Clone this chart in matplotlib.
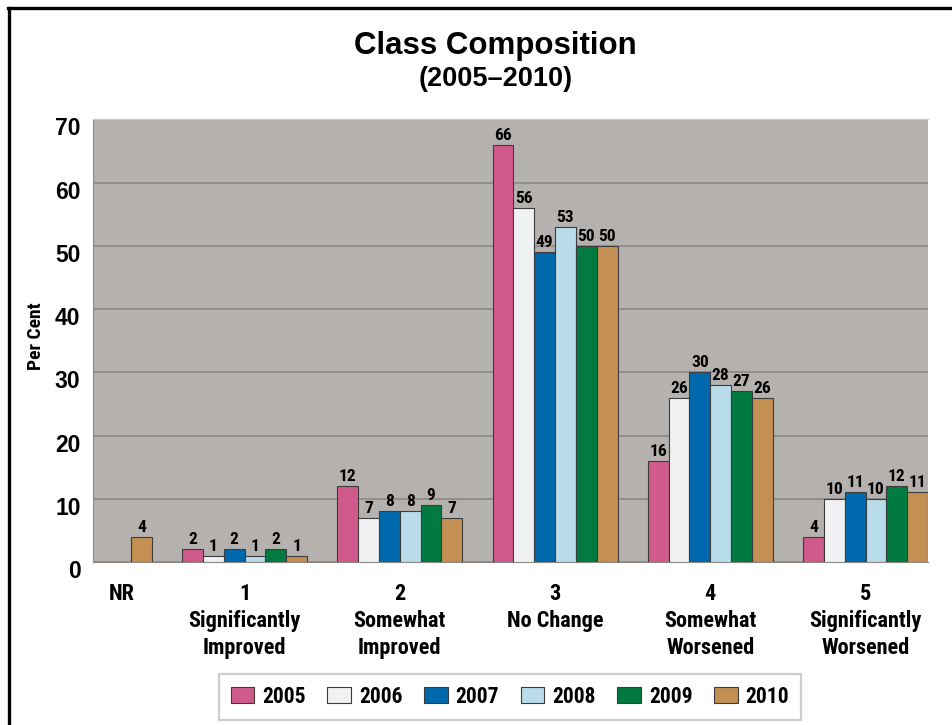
import numpy as np
import matplotlib
matplotlib.use('Agg')
import matplotlib.pyplot as plt
from matplotlib import font_manager
from matplotlib.lines import Line2D
from matplotlib.patches import Patch
from matplotlib.transforms import ScaledTranslation

# data
categories = ['NR', '1\nSignificantly\nImproved', '2\nSomewhat\nImproved',
              '3\nNo Change', '4\nSomewhat\nWorsened', '5\nSignificantly\nWorsened']
years = ['2005', '2006', '2007', '2008', '2009', '2010']
v2005 = [np.nan, 2, 12, 66, 16, 4]
v2006 = [np.nan, 1, 7, 56, 26, 10]
v2007 = [np.nan, 2, 8, 49, 30, 11]
v2008 = [np.nan, 1, 8, 53, 28, 10]
v2009 = [np.nan, 2, 9, 50, 27, 12]
v2010 = [4, 1, 7, 50, 26, 11]
series = [v2005, v2006, v2007, v2008, v2009, v2010]
colors = ['#d05a8c', '#f0f1f3', '#0069ae', '#b8dcea', '#007a40', '#c38f52']

# look for a condensed face, otherwise ask DejaVu for its condensed cut
names = {f.name for f in font_manager.fontManager.ttflist}
narrow = 'DejaVu Sans'
for cand in ['Liberation Sans Narrow', 'Roboto Condensed', 'Open Sans Condensed', 'DejaVu Sans Condensed']:
    if cand in names:
        narrow = cand
        break
wide = 'Liberation Sans'
nfont = dict(family=narrow, stretch='condensed', weight='bold')

fig = plt.figure(figsize=(9.53, 7.25), dpi=100)
ax = fig.add_axes([0.0976, 0.2248, 0.8762, 0.6104])
ax.set_facecolor('#b5b1ae')

w = 0.1342
x = np.arange(len(categories))
for i, (vals, c) in enumerate(zip(series, colors)):
    pos = x + (i - 2.5) * w
    ax.bar(pos, vals, w, color=c, edgecolor='#3c3c3c', linewidth=0.8, zorder=3)
    for px, v in zip(pos, vals):
        if not np.isnan(v):
            ax.annotate('%d' % v, (px, v), xytext=(0, 1.5), textcoords='offset points',
                        ha='center', va='bottom', fontsize=12.5, zorder=4, **nfont)

ax.set_xlim(0.024, 5 + 3 * w)
ax.set_ylim(0, 70)
ax.set_yticks(range(0, 71, 10))
ax.yaxis.grid(True, color='#8a8784', linewidth=1.2, zorder=1)
ax.tick_params(axis='y', length=0, pad=9, labelsize=16.5)
for lab in ax.get_yticklabels():
    lab.set_family(wide)
    lab.set_fontweight('bold')
    lab.set_transform(lab.get_transform() + ScaledTranslation(0, -7 / 100, fig.dpi_scale_trans))

tick_pos = [0.21, 1, 2, 3, 4, 5]
ax.set_xticks(tick_pos)
ax.set_xticklabels(categories, fontsize=16, linespacing=1.3, **nfont)
ax.tick_params(axis='x', length=0, pad=15)

for s in ['left', 'bottom', 'right']:
    ax.spines[s].set_color('#8a8784')
ax.spines['top'].set_color('#c9c6c3')
ax.spines['right'].set_visible(False)

ax.set_ylabel('Per Cent', fontsize=14, **nfont)
ax.yaxis.set_label_coords(-0.057, 0.51)

fig.text(0.52, 0.937, 'Class Composition', ha='center', va='center',
         family=wide, fontweight='bold', fontsize=22.5)
fig.text(0.52, 0.891, '(2005\u20132010)', ha='center', va='center',
         family=wide, fontweight='bold', fontsize=19.5)

handles = [Patch(facecolor=c, edgecolor='#3c3c3c', linewidth=0.8) for c in colors]
leg = fig.legend(handles, years, loc='center', bbox_to_anchor=(0.535, 0.039), ncol=6,
                 prop=dict(size=15.5, **nfont),
                 handlelength=1.1, handleheight=0.8, handletextpad=0.37,
                 columnspacing=1.0, fancybox=False, borderpad=0.55)
leg.get_frame().set_edgecolor('#c0c0c0')
leg.get_frame().set_linewidth(1.6)

# outer frame (top and left edges only are visible in the reference)
fig.add_artist(Line2D([8 / 953, 1], [1 - 8 / 725, 1 - 8 / 725], color='black', linewidth=2.4))
fig.add_artist(Line2D([9 / 953, 9 / 953], [0, 1 - 8 / 725], color='black', linewidth=2.4))

fig.savefig('out.png', dpi=100)
